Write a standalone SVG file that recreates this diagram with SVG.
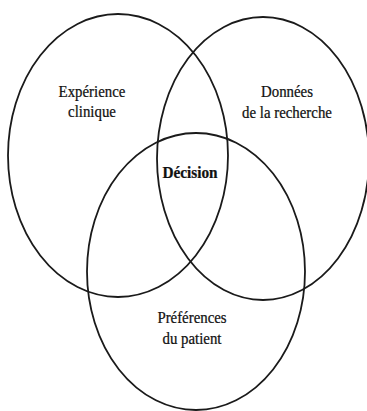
<svg xmlns="http://www.w3.org/2000/svg" width="367" height="411" viewBox="0 0 367 411">
<style>
.c{fill:none;stroke:#1a1a1a;stroke-width:1.8}
text{font-family:'Liberation Serif','Times New Roman',serif;font-size:16.5px;fill:#111;stroke:#111;stroke-width:0.25;text-anchor:middle}
.b{font-weight:bold;font-size:17px}
</style>
<rect width="367" height="411" fill="#fff"/>
<g id="experience">
<ellipse class="c" cx="118" cy="155.5" rx="110" ry="141.5"/>
<text transform="translate(92,97) scale(0.9,1)">Expérience</text>
<text transform="translate(92,117) scale(0.9,1)">clinique</text>
</g>
<g id="donnees">
<ellipse class="c" cx="263" cy="158.5" rx="106" ry="141.5"/>
<text transform="translate(287,97) scale(0.9,1)">Données</text>
<text transform="translate(287,118) scale(0.9,1)">de la recherche</text>
</g>
<g id="preferences">
<ellipse class="c" cx="196" cy="271.5" rx="109" ry="138.5"/>
<text transform="translate(192,323) scale(0.9,1)">Préférences</text>
<text transform="translate(192,344) scale(0.9,1)">du patient</text>
</g>
<g id="decision">
<text class="b" transform="translate(190,178) scale(0.9,1)">Décision</text>
</g>
<g id="connectors"/>
</svg>
